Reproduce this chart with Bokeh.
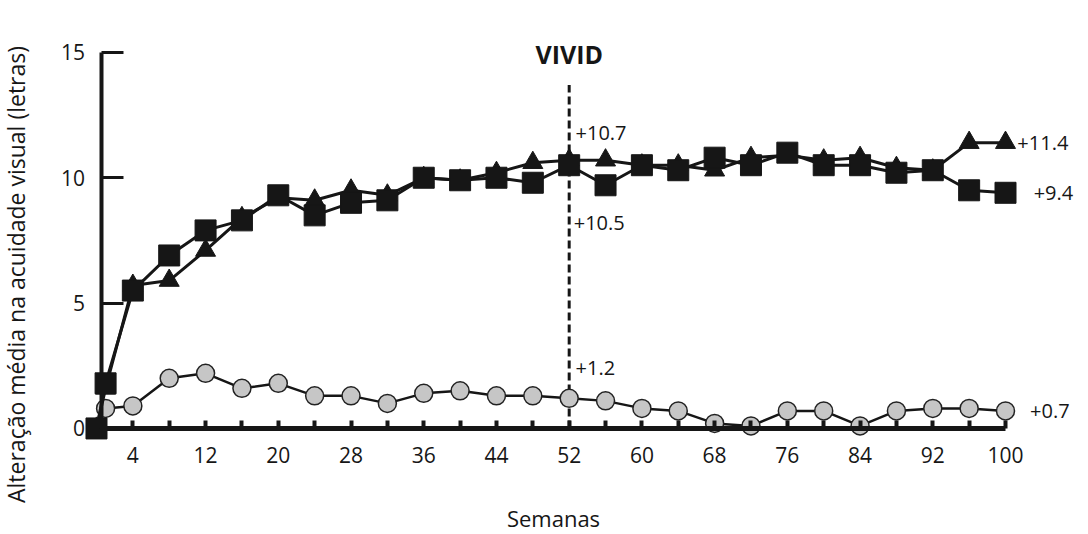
from bokeh.plotting import figure
from bokeh.models import LinearAxis, FixedTicker, Range1d, ColumnDataSource, Label, Grid
from bokeh.embed import file_html
from bokeh.resources import INLINE

# ---------------- data ----------------
weeks = [0, 1, 4, 8, 12, 16, 20, 24, 28, 32, 36, 40, 44, 48, 52, 56, 60, 64,
         68, 72, 76, 80, 84, 88, 92, 96, 100]
squares = [0, 1.8, 5.5, 6.9, 7.9, 8.3, 9.3, 8.5, 9.0, 9.1, 10.0, 9.9, 10.0, 9.8,
           10.5, 9.7, 10.5, 10.3, 10.8, 10.5, 11.0, 10.5, 10.5, 10.2, 10.3, 9.5, 9.4]
triangles = [0, 1.6, 5.7, 5.9, 7.1, 8.4, 9.2, 9.1, 9.5, 9.3, 10.0, 9.9, 10.2, 10.6,
             10.7, 10.7, 10.5, 10.5, 10.3, 10.8, 10.9, 10.7, 10.8, 10.4, 10.3, 11.4, 11.4]
circles = [0, 0.8, 0.9, 2.0, 2.2, 1.6, 1.8, 1.3, 1.3, 1.0, 1.4, 1.5, 1.3, 1.3,
           1.2, 1.1, 0.8, 0.7, 0.2, 0.1, 0.7, 0.7, 0.1, 0.7, 0.8, 0.8, 0.7]
x_tick_labels = [4, 12, 20, 28, 36, 44, 52, 60, 68, 76, 84, 92, 100]
x_minor_ticks = [8, 16, 24, 32, 40, 48, 56, 64, 72, 80, 88, 96]
y_ticks = [0, 5, 10, 15]
vivid_week = 52
vivid_label = "VIVID"
x_title = "Semanas"
y_title = "Alteração média na acuidade visual (letras)"

FONT = "Open Sans"
INK = "#161616"

# frame covers the whole canvas: 9.09 px per week (week 0 at x=96),
# 25.07 px per letter (0 at y=428)
p = figure(width=1088, height=534,
           x_range=Range1d(-10.56, 109.13), y_range=Range1d(-4.23, 17.07),
           output_backend="svg", toolbar_location=None,
           x_axis_location=None, y_axis_location=None,
           min_border_left=0, min_border_right=0,
           min_border_top=0, min_border_bottom=0)
p.outline_line_color = None
p.background_fill_color = "white"
p.border_fill_color = "white"
for r in list(p.center):
    if isinstance(r, Grid):
        r.visible = False

# x axis
xaxis = LinearAxis(fixed_location=0, bounds=(0.5, 100),
                   ticker=FixedTicker(ticks=x_tick_labels, minor_ticks=x_minor_ticks),
                   axis_label=x_title)
xaxis.axis_line_width = 5
xaxis.axis_line_color = INK
xaxis.major_tick_in = 8
xaxis.major_tick_out = 0
xaxis.major_tick_line_width = 4
xaxis.major_tick_line_color = INK
xaxis.minor_tick_in = 8
xaxis.minor_tick_out = 0
xaxis.minor_tick_line_width = 4
xaxis.minor_tick_line_color = INK
xaxis.major_label_text_font = FONT
xaxis.major_label_text_font_size = "21px"
xaxis.major_label_text_color = INK
xaxis.major_label_standoff = 19
xaxis.axis_label_text_font = FONT
xaxis.axis_label_text_font_size = "22px"
xaxis.axis_label_text_font_style = "normal"
xaxis.axis_label_text_color = INK
xaxis.axis_label_standoff = 36
p.add_layout(xaxis, "below")

# y axis (line, ticks, tick labels)
yaxis = LinearAxis(fixed_location=0.5, bounds=(0, 15),
                   ticker=FixedTicker(ticks=y_ticks, minor_ticks=[]))
yaxis.axis_line_width = 4
yaxis.axis_line_color = INK
yaxis.major_tick_in = 22
yaxis.major_tick_out = 0
yaxis.major_tick_line_width = 3
yaxis.major_tick_line_color = INK
yaxis.minor_tick_line_color = None
yaxis.major_label_text_font = FONT
yaxis.major_label_text_font_size = "21px"
yaxis.major_label_text_color = INK
yaxis.major_label_standoff = 16
p.add_layout(yaxis, "left")

# y axis title (carried by a line-less axis so it can be centred like the original)
ytitle_axis = LinearAxis(fixed_location=0.5, bounds=(-2.6, 14.88),
                         ticker=FixedTicker(ticks=[], minor_ticks=[]),
                         axis_label=y_title)
ytitle_axis.axis_line_color = None
ytitle_axis.major_tick_line_color = None
ytitle_axis.minor_tick_line_color = None
ytitle_axis.axis_label_text_font = FONT
ytitle_axis.axis_label_text_font_size = "23px"
ytitle_axis.axis_label_text_font_style = "normal"
ytitle_axis.axis_label_text_color = INK
ytitle_axis.axis_label_standoff = 70
p.add_layout(ytitle_axis, "left")

src = ColumnDataSource(dict(w=weeks, sq=squares, tri=triangles, circ=circles))

# VIVID dashed line
p.segment(x0=[vivid_week], y0=[0], x1=[vivid_week], y1=[13.7],
          line_color=INK, line_width=3, line_dash="8 4")

p.line("w", "circ", source=src, line_color=INK, line_width=2.5)
p.scatter("w", "circ", source=src, marker="circle", size=18,
          fill_color="#c6c6c6", line_color="#222222", line_width=1.5)
p.line("w", "tri", source=src, line_color=INK, line_width=3)
p.scatter("w", "tri", source=src, marker="triangle", size=20,
          fill_color=INK, line_color=INK)
p.line("w", "sq", source=src, line_color=INK, line_width=3)
p.scatter("w", "sq", source=src, marker="square", size=21,
          fill_color=INK, line_color=INK)

i52 = weeks.index(vivid_week)


def add_label(x, y, txt, size="20px", align="left", style="normal"):
    p.add_layout(Label(x=x, y=y, text=txt, text_font=FONT, text_font_size=size,
                       text_align=align, text_baseline="middle",
                       text_color=INK, text_font_style=style))


add_label(vivid_week + 0.7, triangles[i52] + 1.1, f"+{triangles[i52]:.1f}")
add_label(vivid_week + 0.5, squares[i52] - 2.3, f"+{squares[i52]:.1f}")
add_label(vivid_week + 0.7, circles[i52] + 1.23, f"+{circles[i52]:.1f}")
add_label(weeks[-1] + 1.3, triangles[-1], f"+{triangles[-1]:.1f}")
add_label(weeks[-1] + 3.1, squares[-1], f"+{squares[-1]:.1f}")
add_label(weeks[-1] + 2.7, circles[-1], f"+{circles[-1]:.1f}")
add_label(vivid_week, 14.95, vivid_label, size="25px", align="center", style="bold")

open("out.html", "w").write(file_html(p, INLINE))
